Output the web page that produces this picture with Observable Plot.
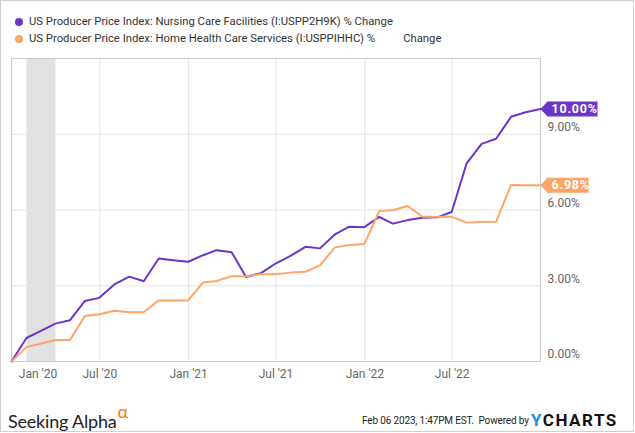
<!DOCTYPE html>
<html>
<head>
<meta charset="utf-8">
<script src="https://cdn.jsdelivr.net/npm/d3@7"></script>
<script src="https://cdn.jsdelivr.net/npm/@observablehq/plot@0.6"></script>
<style>
  html, body { margin: 0; padding: 0; background: #fff; }
  #wrap { position: relative; width: 635px; height: 433px; overflow: hidden; font-family: Roboto, sans-serif; }
  #border { position: absolute; left: 0; top: 0; width: 632px; height: 430px; border: 1px solid #d0d0d0; box-sizing: content-box; }
  #chart { position: absolute; left: 0; top: 0; }
  #legend { position: absolute; left: 15px; top: 14px; font-size: 11.3px; color: #333; line-height: 16.6px; white-space: pre; }
  #legend .row { display: flex; align-items: center; }
  #legend .dot { width: 8px; height: 8px; border-radius: 50%; margin-right: 6px; display: inline-block; }
  #sa { position: absolute; left: 8px; top: 403px; font-family: Lato, sans-serif; font-size: 18px; color: #222; letter-spacing: -0.2px; }
  #sa sup { color: #f57c00; font-size: 18px; position: relative; top: -3px; margin-left: 1px; }
  #foot { position: absolute; left: 362px; top: 413px; font-size: 10px; color: #222; white-space: pre; letter-spacing: -0.15px; transform: scaleY(1.18); transform-origin: left center; line-height: 14px; }
  #yc { position: absolute; left: 531px; top: 410px; font-size: 17px; font-weight: 700; letter-spacing: 1.5px; color: #111; }
  #yc .y { color: #1a8fe3; }
  .endlabel text { letter-spacing: 0.8px; }
</style>
</head>
<body>
<div id="wrap">
  <div id="border"></div>
  <div id="chart"></div>
  <div id="legend"></div>
  <div id="sa">Seeking Alpha<sup>α</sup></div>
  <div id="foot">Feb 06 2023, 1:47PM EST.  Powered by</div>
  <div id="yc"><span class="y">Y</span>CHARTS</div>
</div>
<script>
// ---- data ----
const months = ["2019-12-31","2020-01-31","2020-02-29","2020-03-31","2020-04-30","2020-05-31","2020-06-30","2020-07-31","2020-08-31","2020-09-30","2020-10-31","2020-11-30","2020-12-31","2021-01-31","2021-02-28","2021-03-31","2021-04-30","2021-05-31","2021-06-30","2021-07-31","2021-08-31","2021-09-30","2021-10-31","2021-11-30","2021-12-31","2022-01-31","2022-02-28","2022-03-31","2022-04-30","2022-05-31","2022-06-30","2022-07-31","2022-08-31","2022-09-30","2022-10-31","2022-11-30","2022-12-31"];
const nursing = [0,0.93,1.2,1.5,1.63,2.4,2.52,3.05,3.36,3.18,4.08,4.01,3.95,4.21,4.41,4.33,3.35,3.5,3.88,4.18,4.54,4.48,5.03,5.34,5.32,5.73,5.46,5.6,5.69,5.71,5.92,7.85,8.62,8.82,9.69,9.87,10.00];
const home = [0,0.57,0.7,0.85,0.85,1.8,1.87,2.01,1.95,1.95,2.42,2.42,2.42,3.13,3.19,3.38,3.38,3.46,3.46,3.52,3.55,3.81,4.52,4.61,4.65,5.96,5.99,6.16,5.73,5.73,5.73,5.5,5.52,5.53,6.99,6.98,6.98];
const seriesNames = ["US Producer Price Index: Nursing Care Facilities (I:USPP2H9K) % Change",
                     "US Producer Price Index: Home Health Care Services (I:USPPIHHC) %          Change"];
const seriesColors = ["#6a35c9", "#ffa468"];
const endLabels = ["10.00%", "6.98%"];
const recession = [{start: "2020-02-01", end: "2020-04-01"}];
const xTickDates = ["2020-01-01","2020-07-01","2021-01-01","2021-07-01","2022-01-01","2022-07-01"];
const xTickLabels = ["Jan '20","Jul '20","Jan '21","Jul '21","Jan '22","Jul '22"];
const yTicks = [0, 3, 6, 9];

// ---- build ----
const parse = d3.utcParse("%Y-%m-%d");
const series = [nursing, home];
const rows = [];
series.forEach((vals, s) => vals.forEach((v, i) => rows.push({date: parse(months[i]), value: v, s})));
const xt = xTickDates.map(parse);

function tagSymbol(w) {
  return {
    draw(ctx) {
      ctx.moveTo(0, 0);
      ctx.lineTo(7, -7.5);
      ctx.lineTo(w, -7.5);
      ctx.lineTo(w, 7.5);
      ctx.lineTo(7, 7.5);
      ctx.closePath();
    }
  };
}

const lastDate = parse(months[months.length - 1]);
const endMarks = [];
series.forEach((vals, s) => {
  const d = [{date: lastDate, value: vals[vals.length - 1], label: endLabels[s]}];
  const w = 9 * endLabels[s].length + 3;
  endMarks.push(Plot.dot(d, {x: "date", y: "value", symbol: tagSymbol(w), r: 5, fill: seriesColors[s], stroke: "none"}));
  endMarks.push(Plot.text(d, {x: "date", y: "value", text: "label", dx: 11, textAnchor: "start", fill: "white", fontWeight: "bold", fontSize: 12.5, className: "endlabel"}));
});

const chart = Plot.plot({
  width: 635,
  height: 390,
  marginTop: 58,
  marginBottom: 29,
  marginLeft: 11,
  marginRight: 95,
  style: {fontFamily: "Roboto", fontSize: "12px", background: "transparent", overflow: "visible"},
  x: {type: "utc", domain: [parse(months[0]), lastDate]},
  y: {domain: [0, 12]},
  marks: [
    Plot.rect(recession, {x1: d => parse(d.start), x2: d => parse(d.end), y1: 0, y2: 12, fill: "#e1e1e1"}),
    Plot.gridY(yTicks.slice(1), {stroke: "#e4e4e4", strokeOpacity: 1}),
    Plot.gridX(xt.slice(1), {stroke: "#e4e4e4", strokeOpacity: 1}),
    Plot.frame({stroke: "#cccccc"}),
    Plot.line(rows, {x: "date", y: "value", z: "s", stroke: d => seriesColors[d.s], strokeWidth: 2, curve: "linear"}),
    Plot.axisY(yTicks, {anchor: "right", tickSize: 0, tickPadding: 7, dy: -7, tickFormat: d => d.toFixed(2) + "%", fill: "#666", label: null}),
    Plot.axisX(xt.slice(0, 1), {tickSize: 0, tickPadding: 8, dx: 26, tickFormat: (d, i) => xTickLabels[0], fill: "#666", label: null}),
    Plot.axisX(xt.slice(1), {tickSize: 0, tickPadding: 8, tickFormat: (d, i) => xTickLabels[i + 1], fill: "#666", label: null}),
    ...endMarks
  ]
});
document.getElementById("chart").appendChild(chart);

const legend = document.getElementById("legend");
seriesNames.forEach((name, s) => {
  const row = document.createElement("div");
  row.className = "row";
  const dot = document.createElement("span");
  dot.className = "dot";
  dot.style.background = seriesColors[s];
  const t = document.createElement("span");
  t.textContent = name;
  row.appendChild(dot);
  row.appendChild(t);
  legend.appendChild(row);
});
</script>
</body>
</html>
